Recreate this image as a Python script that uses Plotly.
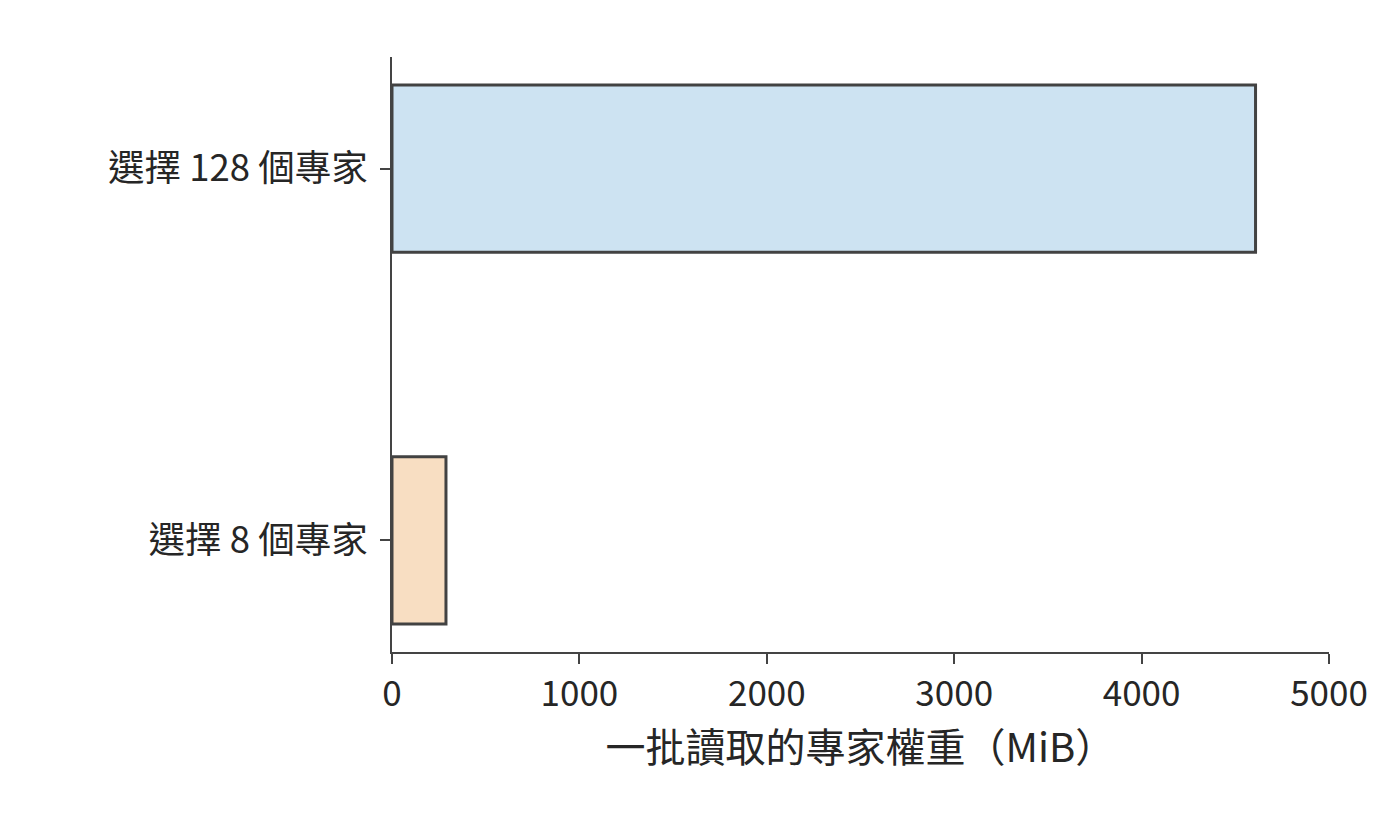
import plotly.graph_objects as go

FONT = "Noto Sans CJK TC"
TEXT = "#262626"
AXIS = "#444444"
EDGE = "#424242"
BLUE = "#CDE3F2"
PEACH = "#F8DEC2"

# data
categories = ["選擇 8 個專家", "選擇 128 個專家"]
weights_mib = [288, 4608]
x_ticks = [0, 1000, 2000, 3000, 4000, 5000]
x_title = "一批讀取的專家權重（MiB）"

fig = go.Figure()
fig.add_trace(
    go.Bar(
        y=categories,
        x=weights_mib,
        orientation="h",
        width=0.45,
        marker=dict(color=[PEACH, BLUE], line=dict(color=EDGE, width=3)),
        hoverinfo="x+y",
    )
)

# page body adds 8px, so margins are offset by that
fig.update_layout(
    template="plotly_white",
    width=1400,
    height=816,
    margin=dict(l=384, r=79, t=49, b=172),
    showlegend=False,
    plot_bgcolor="white",
    paper_bgcolor="white",
    font=dict(family=FONT, size=35, color=TEXT),
)
fig.update_xaxes(
    range=[0, 5000],
    tickvals=x_ticks,
    ticktext=[str(t) for t in x_ticks],
    showgrid=False,
    zeroline=False,
    showline=True,
    linecolor=AXIS,
    linewidth=2,
    ticks="outside",
    ticklen=10,
    tickwidth=2,
    tickcolor=AXIS,
    tickfont=dict(size=35, color=TEXT),
    title=dict(text=x_title, font=dict(size=40, color=TEXT), standoff=9),
    automargin=False,
)
fig.update_yaxes(
    type="category",
    categoryorder="array",
    categoryarray=categories,
    range=[-0.3, 1.3],
    showgrid=False,
    zeroline=False,
    showline=True,
    linecolor=AXIS,
    linewidth=2,
    ticks="outside",
    ticklen=10,
    tickwidth=2,
    tickcolor=AXIS,
    tickfont=dict(size=36.5, color=TEXT),
    ticklabelstandoff=5,
    automargin=False,
)
fig.update_layout(modebar=dict(bgcolor="rgba(0,0,0,0)", color="rgba(0,0,0,0)"))

fig.write_html("out.html", config={"displayModeBar": False})
